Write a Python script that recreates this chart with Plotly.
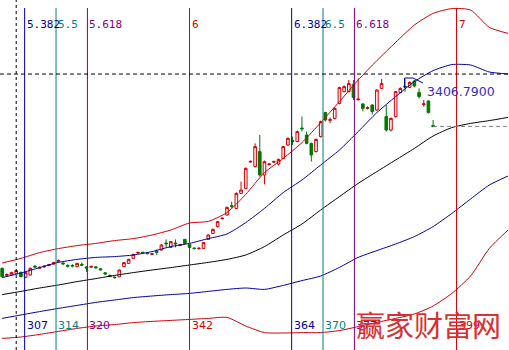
import plotly.graph_objects as go

# ---------------- data ----------------
bars = list(range(302, 395))
opens = [2435,2400,2402,2410,2414,2390,2402,2446,2436,2442,2450,2457,2470,2462,2450,2450,2444,2455,2442,2441,
         2443,2433,2413,2400,2392,2393,2444,2460,2485,2512,2516,2512,2505,2520,2527,2562,2540,2562,2550,2580,
         2555,2537,2533,2535,2580,2610,2644,2683,2702,2749,2735,2810,2835,2967,2944,3019,2902,2954,2966,2957,
         2985,3052,3074,3069,3137,3102,3060,3019,3094,3214,3175,3185,3260,3319,3319,3355,3278,3257,3235,3252,
         3227,3335,3194,3127,3194,3314,3346,3340,3372,3315,3254,3272,3150]
highs = [2440,2410,2418,2428,2420,2417,2440,2452,2445,2450,2458,2468,2480,2466,2455,2456,2463,2465,2446,2448,
         2446,2437,2416,2404,2394,2430,2466,2483,2508,2518,2518,2515,2512,2530,2556,2580,2572,2580,2558,2583,
         2558,2540,2539,2567,2605,2634,2672,2690,2744,2769,2815,2869,2940,2974,3060,3102,2974,2962,2974,2984,
         3048,3090,3094,3124,3194,3120,3064,3085,3174,3218,3190,3240,3344,3350,3377,3377,3385,3262,3245,3256,
         3330,3382,3252,3190,3322,3340,3382,3370,3377,3335,3277,3275,3177]
lows = [2391,2395,2400,2408,2390,2388,2400,2438,2433,2440,2446,2455,2466,2452,2440,2440,2442,2448,2418,2438,
        2434,2424,2403,2391,2384,2391,2442,2458,2483,2508,2508,2505,2502,2502,2525,2540,2537,2540,2546,2557,
        2537,2530,2530,2532,2577,2607,2640,2680,2700,2735,2732,2808,2830,2964,2940,2894,2855,2950,2962,2950,
        2982,3048,3052,3066,3119,3055,2969,3015,3090,3170,3160,3180,3255,3315,3315,3277,3275,3220,3230,3205,
        3224,3332,3119,3120,3190,3311,3318,3337,3340,3285,3244,3210,3140]
closes = [2394,2404,2414,2424,2394,2414,2435,2442,2440,2446,2454,2464,2474,2458,2446,2447,2460,2451,2437,2445,
          2438,2428,2407,2394,2389,2427,2464,2480,2505,2515,2512,2509,2508,2516,2552,2558,2569,2558,2554,2560,
          2540,2534,2536,2564,2602,2630,2669,2686,2740,2745,2810,2827,2935,2970,3044,2902,2969,2957,2969,2980,
          3044,3085,3070,3119,3133,3060,3002,3080,3169,3177,3179,3235,3339,3344,3360,3290,3281,3235,3239,3219,
          3327,3360,3127,3185,3319,3335,3342,3365,3347,3294,3258,3214,3145]

band_bars = [302,306,310,314,318,322,326,330,334,338,342,346,350,354,358,362,366,370,374,378,382,386,390,394,398,402,406,410]
red_upper = [2462,2485,2514,2534,2549,2560,2574,2584,2602,2627,2662,2670,2714,2805,2914,2985,3064,3164,3269,3377,3474,3565,3652,3710,3734,3727,3640,3610]
blue_upper = [2389,2412,2439,2465,2480,2490,2494,2502,2519,2544,2560,2584,2607,2664,2735,2814,2877,2952,3027,3119,3214,3294,3369,3424,3454,3452,3417,3407]
middle = [2304,2320,2337,2352,2369,2384,2400,2414,2427,2439,2452,2465,2480,2502,2544,2602,2657,2727,2794,2860,2919,2977,3035,3097,3139,3160,3174,3190]
blue_lower = [2185,2202,2219,2235,2250,2265,2277,2289,2297,2304,2310,2320,2330,2337,2330,2350,2374,2397,2440,2490,2524,2557,2594,2644,2710,2782,2852,2897]
red_lower = [2085,2092,2105,2120,2135,2147,2154,2164,2170,2175,2180,2185,2190,2147,2114,2112,2114,2114,2124,2144,2165,2185,2207,2247,2310,2397,2535,2627]

fib_ratios = ["5.382", "5.5", "5.618", "6", "6.382", "6.5", "6.618", "7"]
fib_bars = [306.8, 313.5, 320.2, 342.0, 363.8, 370.5, 377.2, 399.0]
fib_labels = ["307", "314", "320", "342", "364", "370", "377", "399"]

cursor_bar = 305.0
cursor_price = 3406.79
cursor_text = "3406.7900"
box_x = [387.9, 387.9, 389.7, 391.85]
box_y = [3337, 3387, 3387, 3362]
top_text = "11.000"
watermark = "赢家财富网"

# ---------------- styling ----------------
RED = "#D00000"
GREEN = "#007800"
BLUE = "#0000A0"
TEAL = "#008080"
PURPLE = "#800080"
fib_colors = [BLUE, TEAL, PURPLE, RED, BLUE, TEAL, PURPLE, RED]

X0, X1 = 301.54, 410.2
Y0, Y1 = 2027, 3777

fig = go.Figure()

for vals, col in [(red_upper, RED), (red_lower, RED), (blue_upper, BLUE), (blue_lower, BLUE), (middle, "#000000")]:
    fig.add_trace(go.Scatter(x=band_bars, y=vals, mode="lines",
                             line=dict(color=col, width=1, shape="spline", smoothing=0.6),
                             hoverinfo="skip", showlegend=False))

fig.add_trace(go.Candlestick(
    x=bars, open=opens, high=highs, low=lows, close=closes,
    increasing=dict(line=dict(color=RED, width=1), fillcolor="#FFF4F4"),
    decreasing=dict(line=dict(color=GREEN, width=1), fillcolor=GREEN),
    whiskerwidth=0, showlegend=False))

fig.add_trace(go.Scatter(x=box_x, y=box_y, mode="lines", line=dict(color=BLUE, width=1),
                         hoverinfo="skip", showlegend=False))

shapes = []
annotations = []
top_frac = 1 - 8 / 350
for fb, ratio, lab, col in zip(fib_bars, fib_ratios, fib_labels, fib_colors):
    shapes.append(dict(type="line", xref="x", yref="paper", x0=fb, x1=fb, y0=0, y1=top_frac,
                       line=dict(color=col, width=1)))
    annotations.append(dict(x=fb, xref="x", y=1 - 24 / 350, yref="paper", text=ratio, showarrow=False,
                            xanchor="left", yanchor="middle", xshift=0,
                            font=dict(family="DejaVu Sans Mono", size=11, color=col)))
    annotations.append(dict(x=fb, xref="x", y=1 - 325 / 350, yref="paper", text=lab, showarrow=False,
                            xanchor="left", yanchor="middle", xshift=0,
                            font=dict(family="DejaVu Sans", size=11, color=col)))

# crosshair
shapes.append(dict(type="line", xref="x", yref="paper", x0=cursor_bar, x1=cursor_bar, y0=0, y1=1,
                   line=dict(color="black", width=1, dash="3px,3px")))
shapes.append(dict(type="line", xref="paper", yref="y", x0=0, x1=1, y0=cursor_price, y1=cursor_price,
                   line=dict(color="black", width=1, dash="4px,3px")))
# last close reference
shapes.append(dict(type="line", xref="x", yref="y", x0=bars[-1], x1=X1, y0=closes[-1], y1=closes[-1],
                   line=dict(color="#808080", width=1, dash="4px,3px")))

annotations.append(dict(x=425 / 509, xref="paper", y=1 - 91 / 350, yref="paper", text=cursor_text, showarrow=False,
                        xanchor="left", yanchor="middle",
                        font=dict(family="DejaVu Sans", size=12.5, color="#3030C0")))
annotations.append(dict(x=473 / 509, xref="paper", y=1 + 3 / 350, yref="paper", text=top_text, showarrow=False,
                        xanchor="left", yanchor="middle",
                        font=dict(family="DejaVu Sans", size=11, color=BLUE)))
annotations.append(dict(x=428 / 509, xref="paper", y=1 - 324 / 350, yref="paper", text=watermark, showarrow=False,
                        xanchor="center", yanchor="middle",
                        font=dict(family="Noto Sans CJK SC", size=29, color="#D83030")))

fig.update_layout(
    width=509, height=350,
    margin=dict(l=0, r=0, t=0, b=0),
    paper_bgcolor="white", plot_bgcolor="white",
    boxgap=0.2,
    xaxis=dict(range=[X0, X1], visible=False, rangeslider=dict(visible=False), fixedrange=True),
    yaxis=dict(range=[Y0, Y1], visible=False, fixedrange=True),
    shapes=shapes, annotations=annotations,
    showlegend=False,
)

fig.write_html("out.html")
